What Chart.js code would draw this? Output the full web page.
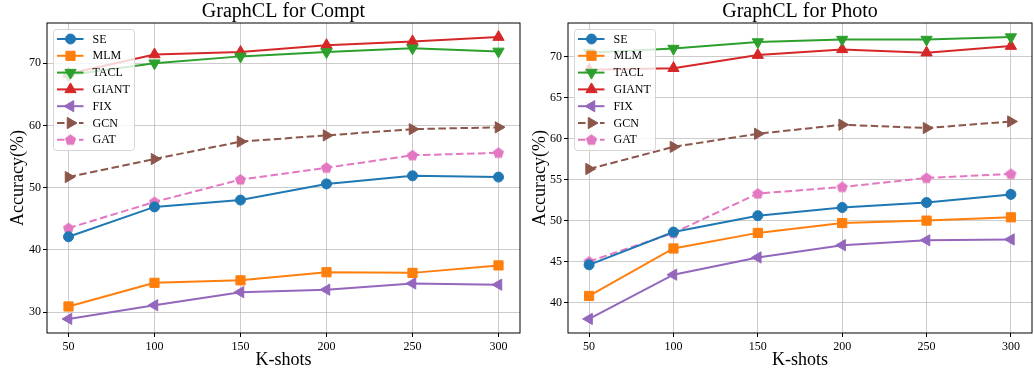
<!DOCTYPE html>
<html>
<head>
<meta charset="utf-8">
<script src="https://cdn.jsdelivr.net/npm/chart.js@4.4.1/dist/chart.umd.min.js"></script>
<style>
  html, body { margin: 0; padding: 0; background: #fff; }
  #wrap { position: relative; width: 1034px; height: 372px; }
  canvas { position: absolute; top: 0; }
  #compt { left: 0; }
  #photo { left: 522px; }
</style>
</head>
<body>
<div id="wrap">
  <canvas id="compt" width="522" height="372"></canvas>
  <canvas id="photo" width="512" height="372"></canvas>
</div>
<script>
(function () {
  "use strict";

  var K_SHOTS = [50, 100, 150, 200, 250, 300];
  var METHODS = ["SE", "MLM", "TACL", "GIANT", "FIX", "GCN", "GAT"];

  // GraphCL for Compt
  var COMPT_SE = [42.1, 46.9, 48.0, 50.6, 51.9, 51.7];
  var COMPT_MLM = [30.9, 34.7, 35.1, 36.4, 36.3, 37.5];
  var COMPT_TACL = [68.1, 70.0, 71.1, 71.8, 72.4, 71.9];
  var COMPT_GIANT = [68.3, 71.4, 71.8, 72.9, 73.5, 74.2];
  var COMPT_FIX = [28.9, 31.1, 33.2, 33.6, 34.6, 34.4];
  var COMPT_GCN = [51.7, 54.6, 57.4, 58.4, 59.4, 59.7];
  var COMPT_GAT = [43.5, 47.7, 51.3, 53.2, 55.2, 55.6];

  // GraphCL for Photo
  var PHOTO_SE = [44.6, 48.6, 50.6, 51.6, 52.2, 53.2];
  var PHOTO_MLM = [40.8, 46.6, 48.5, 49.7, 50.0, 50.4];
  var PHOTO_TACL = [70.5, 71.0, 71.8, 72.1, 72.1, 72.4];
  var PHOTO_GIANT = [68.4, 68.6, 70.2, 70.9, 70.5, 71.3];
  var PHOTO_FIX = [38.0, 43.4, 45.5, 47.0, 47.6, 47.7];
  var PHOTO_GCN = [56.3, 59.0, 60.6, 61.7, 61.3, 62.1];
  var PHOTO_GAT = [45.0, 48.5, 53.3, 54.1, 55.2, 55.7];

  var COMPT_Y_TICKS = [30, 40, 50, 60, 70];
  var PHOTO_Y_TICKS = [40, 45, 50, 55, 60, 65, 70];

  var COLORS = ["#1f77b4", "#ff7f0e", "#2ca02c", "#d62728", "#9467bd", "#8c564b", "#e377c2"];
  var FONT = "'Liberation Serif', 'DejaVu Serif', serif";

  function pentagon(color) {
    var c = document.createElement("canvas");
    c.width = 13;
    c.height = 13;
    var g = c.getContext("2d");
    g.beginPath();
    for (var i = 0; i < 5; i++) {
      var a = -Math.PI / 2 + i * 2 * Math.PI / 5;
      var px = 6.5 + Math.cos(a) * 5.8;
      var py = 6.8 + Math.sin(a) * 5.8;
      if (i === 0) g.moveTo(px, py); else g.lineTo(px, py);
    }
    g.closePath();
    g.fillStyle = color;
    g.fill();
    return c;
  }

  // marker per method: style, rotation, radius
  var MARKERS = [
    { style: "circle", rot: 0, r: 5 },
    { style: "rect", rot: 0, r: 6.5 },
    { style: "triangle", rot: 180, r: 6.5 },
    { style: "triangle", rot: 0, r: 6.5 },
    { style: "triangle", rot: 270, r: 6.5 },
    { style: "triangle", rot: 90, r: 6.5 },
    { style: pentagon(COLORS[6]), rot: 0, r: 6 },
  ];
  var DASHED = [false, false, false, false, false, true, true];

  function buildDatasets(series) {
    return series.map(function (vals, i) {
      var m = MARKERS[i];
      return {
        label: METHODS[i],
        data: K_SHOTS.map(function (k, j) {
          return { x: k, y: vals[j] };
        }),
        borderColor: COLORS[i],
        backgroundColor: COLORS[i],
        borderWidth: 2,
        borderDash: DASHED[i] ? [7.5, 3.5] : [],
        pointStyle: m.style,
        pointRotation: m.rot,
        pointRadius: m.r,
        pointBorderWidth: 1,
        pointBorderColor: COLORS[i],
        pointBackgroundColor: COLORS[i],
        tension: 0,
        fill: false,
      };
    });
  }

  var frameAndLegend = {
    id: "frameAndLegend",
    afterDraw: function (chart) {
      var ctx = chart.ctx;
      var a = chart.chartArea;
      ctx.save();
      ctx.strokeStyle = "#000";
      ctx.lineWidth = 1;
      ctx.strokeRect(a.left, a.top, a.right - a.left, a.bottom - a.top);

      var x0 = a.left + 6.5, y0 = a.top + 6.5, w = 81, h = 121, rr = 3;
      ctx.beginPath();
      ctx.moveTo(x0 + rr, y0);
      ctx.arcTo(x0 + w, y0, x0 + w, y0 + h, rr);
      ctx.arcTo(x0 + w, y0 + h, x0, y0 + h, rr);
      ctx.arcTo(x0, y0 + h, x0, y0, rr);
      ctx.arcTo(x0, y0, x0 + w, y0, rr);
      ctx.closePath();
      ctx.fillStyle = "rgba(255,255,255,0.8)";
      ctx.fill();
      ctx.strokeStyle = "#d6d6d6";
      ctx.stroke();

      ctx.font = "12px " + FONT;
      ctx.textBaseline = "middle";
      ctx.textAlign = "left";
      chart.data.datasets.forEach(function (ds, i) {
        var cy = y0 + 9.5 + i * 16.8;
        ctx.setLineDash(ds.borderDash);
        ctx.strokeStyle = ds.borderColor;
        ctx.lineWidth = 2;
        ctx.beginPath();
        ctx.moveTo(x0 + 3.5, cy);
        ctx.lineTo(x0 + 30, cy);
        ctx.stroke();
        ctx.setLineDash([]);
        ctx.fillStyle = ds.backgroundColor;
        ctx.lineWidth = 1;
        Chart.helpers.drawPoint(ctx, {
          pointStyle: ds.pointStyle,
          rotation: ds.pointRotation,
          radius: ds.pointRadius,
          borderWidth: 1,
        }, x0 + 17, cy);
        ctx.fillStyle = "#000";
        ctx.fillText(ds.label, x0 + 39, cy + 0.5);
      });
      ctx.restore();
    },
  };

  function makeChart(id, title, series, yTicks, yWidth) {
    var all = [].concat.apply([], series);
    var lo = Math.min.apply(null, all), hi = Math.max.apply(null, all);
    var pad = (hi - lo) * 0.05;
    var xPad = (K_SHOTS[K_SHOTS.length - 1] - K_SHOTS[0]) * 0.05;

    var tickFont = { family: FONT, size: 12 };
    var gridOpts = {
      color: "rgba(176,176,176,0.65)",
      lineWidth: 1,
      tickColor: "#000",
      tickLength: 4,
      drawTicks: true,
    };

    new Chart(document.getElementById(id), {
      type: "line",
      data: { datasets: buildDatasets(series) },
      plugins: [frameAndLegend],
      options: {
        responsive: false,
        animation: false,
        devicePixelRatio: 1,
        layout: { autoPadding: false, padding: { left: 0, right: 2, top: 0, bottom: 0 } },
        plugins: {
          legend: { display: false },
          tooltip: { enabled: false },
          title: {
            display: true,
            text: title,
            color: "#000",
            fullSize: false,
            font: { family: FONT, size: 20, weight: "normal", lineHeight: 1.15 },
            padding: 0,
          },
        },
        scales: {
          x: {
            type: "linear",
            min: K_SHOTS[0] - xPad,
            max: K_SHOTS[K_SHOTS.length - 1] + xPad,
            afterBuildTicks: function (s) {
              s.ticks = K_SHOTS.map(function (v) { return { value: v }; });
            },
            afterFit: function (s) {
              s.height = 39;
              s.paddingLeft = 0;
              s.paddingRight = 0;
            },
            ticks: { font: tickFont, color: "#000", padding: 3, maxRotation: 0, autoSkip: false },
            grid: gridOpts,
            border: { display: false },
            title: {
              display: true,
              text: "K-shots",
              color: "#000",
              font: { family: FONT, size: 18, lineHeight: 1.2 },
              padding: { top: 0, bottom: 1 },
            },
          },
          y: {
            min: lo - pad,
            max: hi + pad,
            afterBuildTicks: function (s) {
              s.ticks = yTicks.map(function (v) { return { value: v }; });
            },
            afterFit: function (s) {
              s.width = yWidth;
              s.paddingTop = 0;
              s.paddingBottom = 0;
            },
            ticks: { font: tickFont, color: "#000", padding: 2, autoSkip: false },
            grid: gridOpts,
            border: { display: false },
            title: {
              display: true,
              text: "Accuracy(%)",
              color: "#000",
              font: { family: FONT, size: 18, lineHeight: 1.2 },
              padding: { top: 7, bottom: 0 },
            },
          },
        },
      },
    });
  }

  makeChart("compt", "GraphCL for Compt",
    [COMPT_SE, COMPT_MLM, COMPT_TACL, COMPT_GIANT, COMPT_FIX, COMPT_GCN, COMPT_GAT],
    COMPT_Y_TICKS, 47);
  makeChart("photo", "GraphCL for Photo",
    [PHOTO_SE, PHOTO_MLM, PHOTO_TACL, PHOTO_GIANT, PHOTO_FIX, PHOTO_GCN, PHOTO_GAT],
    PHOTO_Y_TICKS, 46);
})();
</script>
</body>
</html>
